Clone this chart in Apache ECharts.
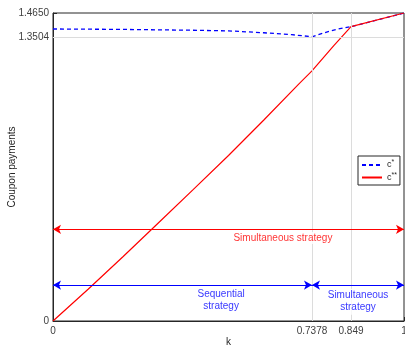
<!DOCTYPE html>
<html>
<head>
<meta charset="utf-8">
<script src="https://cdn.jsdelivr.net/npm/echarts@6/dist/echarts.min.js"></script>
<style>
html,body{margin:0;padding:0;background:#fff;}
#main{width:405px;height:347px;}
</style>
</head>
<body>
<div id="main"></div>
<script>
// data
var kBlue = [0, 0.1, 0.2, 0.3, 0.4, 0.5, 0.6, 0.68, 0.7378, 0.775, 0.81, 0.849, 1];
var cStar = [1.389, 1.388, 1.387, 1.385, 1.383, 1.380, 1.371, 1.362, 1.352, 1.372, 1.388, 1.400, 1.465];
var kRed = [0, 0.1, 0.2, 0.3, 0.4, 0.5, 0.6, 0.7, 0.7378, 0.8, 0.849, 1];
var cStarStar = [0, 0.151, 0.307, 0.466, 0.626, 0.787, 0.955, 1.127, 1.19, 1.31, 1.400, 1.465];

var xTicks = [0, 0.7378, 0.849, 1];
var xTickLabels = ['0', '0.7378', '0.849', '1'];
var yTicks = [0, 1.3504, 1.465];
var yTickLabels = ['0', '1.3504', '1.4650'];

// strategy arrows: [kStart, kEnd, level]
var redArrow = [0, 1, 0.436];
var blueArrows = [[0, 0.7378, 0.171], [0.7378, 1, 0.171]];
// text labels: [k, level, text]
var redLabels = [[0.655, 0.395, 'Simultaneous strategy']];
var blueLabels = [[0.479, 0.097, 'Sequential\nstrategy'], [0.869, 0.092, 'Simultaneous\nstrategy']];

function pairs(xs, ys) {
    return xs.map(function (x, i) { return [x, ys[i]]; });
}
var font = 'Liberation Sans, Arial, sans-serif';
var axisColor = '#262626';

var myChart = echarts.init(document.getElementById('main'));
myChart.setOption({
    animation: false,
    backgroundColor: '#fff',
    textStyle: { fontFamily: font },
    grid: {
        left: 53, right: 1, top: 13, bottom: 26,
        outerBoundsMode: 'none', containLabel: false,
        show: true, borderColor: axisColor, borderWidth: 1
    },
    legend: {
        orient: 'vertical',
        left: 358, top: 156,
        padding: [3, 3, 3, 3],
        itemGap: 2,
        itemWidth: 20, itemHeight: 8,
        borderColor: axisColor, borderWidth: 1,
        backgroundColor: '#fff',
        itemStyle: { opacity: 0 },
        data: ['c*', 'c**'],
        formatter: function (name) {
            return '{b|c}{s|' + name.slice(1) + '}';
        },
        textStyle: {
            fontFamily: font,
            rich: {
                b: { fontSize: 9, color: axisColor, fontFamily: font },
                s: { fontSize: 7, color: axisColor, fontFamily: font, padding: [0, 0, 5, 0] }
            }
        }
    },
    xAxis: {
        type: 'value', min: 0, max: 1,
        name: 'k', nameLocation: 'middle', nameGap: 16, nameMoveOverlap: false,
        nameTextStyle: { fontSize: 10, color: axisColor, fontFamily: font },
        axisLine: { show: true, lineStyle: { color: axisColor } },
        axisTick: { show: true, inside: true, length: 4, customValues: xTicks, lineStyle: { color: axisColor } },
        axisLabel: {
            customValues: xTicks, fontSize: 10, color: '#404040', margin: 5, fontFamily: font,
            formatter: function (v) { return xTickLabels[xTicks.indexOf(v)]; }
        },
        splitLine: { show: false }
    },
    yAxis: {
        type: 'value', min: 0, max: 1.465,
        name: 'Coupon payments', nameLocation: 'middle', nameGap: 36, nameMoveOverlap: false,
        nameTextStyle: { fontSize: 10, color: axisColor, fontFamily: font },
        axisLine: { show: true, lineStyle: { color: axisColor } },
        axisTick: { show: true, inside: true, length: 4, customValues: yTicks, lineStyle: { color: axisColor } },
        axisLabel: {
            customValues: yTicks, fontSize: 10, color: '#404040', margin: 4, fontFamily: font,
            formatter: function (v) { return yTickLabels[yTicks.indexOf(v)]; }
        },
        splitLine: { show: false }
    },
    series: [
        {
            // grid lines at ticks
            type: 'line', data: [], silent: true, z: 1,
            markLine: {
                silent: true, symbol: ['none', 'none'], label: { show: false },
                lineStyle: { color: '#dcdcdc', width: 1, type: 'solid' },
                data: [{ xAxis: xTicks[1] }, { xAxis: xTicks[2] }, { yAxis: yTicks[1] }]
            }
        },
        {
            name: 'c*', type: 'line', data: pairs(kBlue, cStar),
            symbol: 'none', z: 3,
            lineStyle: { color: '#0000ff', width: 1.3, type: [4, 3] },
            itemStyle: { color: '#0000ff' }
        },
        {
            name: 'c**', type: 'line', data: pairs(kRed, cStarStar),
            symbol: 'none', z: 4,
            lineStyle: { color: '#ff0000', width: 1.2 },
            itemStyle: { color: '#ff0000' }
        },
        {
            type: 'line', data: [], silent: true, z: 3,
            markLine: {
                silent: true, symbol: ['arrow', 'arrow'], symbolSize: [7, 8],
                label: { show: false },
                lineStyle: { color: '#ff0000', width: 1, type: 'solid' },
                data: [[{ coord: [redArrow[0], redArrow[2]] }, { coord: [redArrow[1], redArrow[2]] }]]
            }
        },
        {
            type: 'line', data: [], silent: true, z: 3,
            markLine: {
                silent: true, symbol: ['arrow', 'arrow'], symbolSize: [7, 8],
                label: { show: false },
                lineStyle: { color: '#0000ff', width: 1, type: 'solid' },
                data: blueArrows.map(function (a) {
                    return [{ coord: [a[0], a[2]] }, { coord: [a[1], a[2]] }];
                })
            }
        },
        {
            type: 'scatter', symbol: 'circle', symbolSize: 1, silent: true, z: 5,
            itemStyle: { color: 'rgba(0,0,0,0)' },
            data: redLabels.map(function (l) { return { value: [l[0], l[1]], text: l[2] }; }),
            label: {
                show: true, position: 'inside', color: '#ff0000', fontSize: 10, fontFamily: font,
                backgroundColor: '#fff', padding: [1, 1],
                formatter: function (p) { return p.data.text; }
            }
        },
        {
            type: 'scatter', symbol: 'circle', symbolSize: 1, silent: true, z: 5,
            itemStyle: { color: 'rgba(0,0,0,0)' },
            data: blueLabels.map(function (l) { return { value: [l[0], l[1]], text: l[2] }; }),
            label: {
                show: true, position: 'inside', color: '#0000ff', fontSize: 10, lineHeight: 12, fontFamily: font,
                backgroundColor: '#fff', padding: [1, 1],
                formatter: function (p) { return p.data.text; }
            }
        }
    ]
});
window.addEventListener("resize", function() {
    myChart.resize();
});
</script>
</body>
</html>
